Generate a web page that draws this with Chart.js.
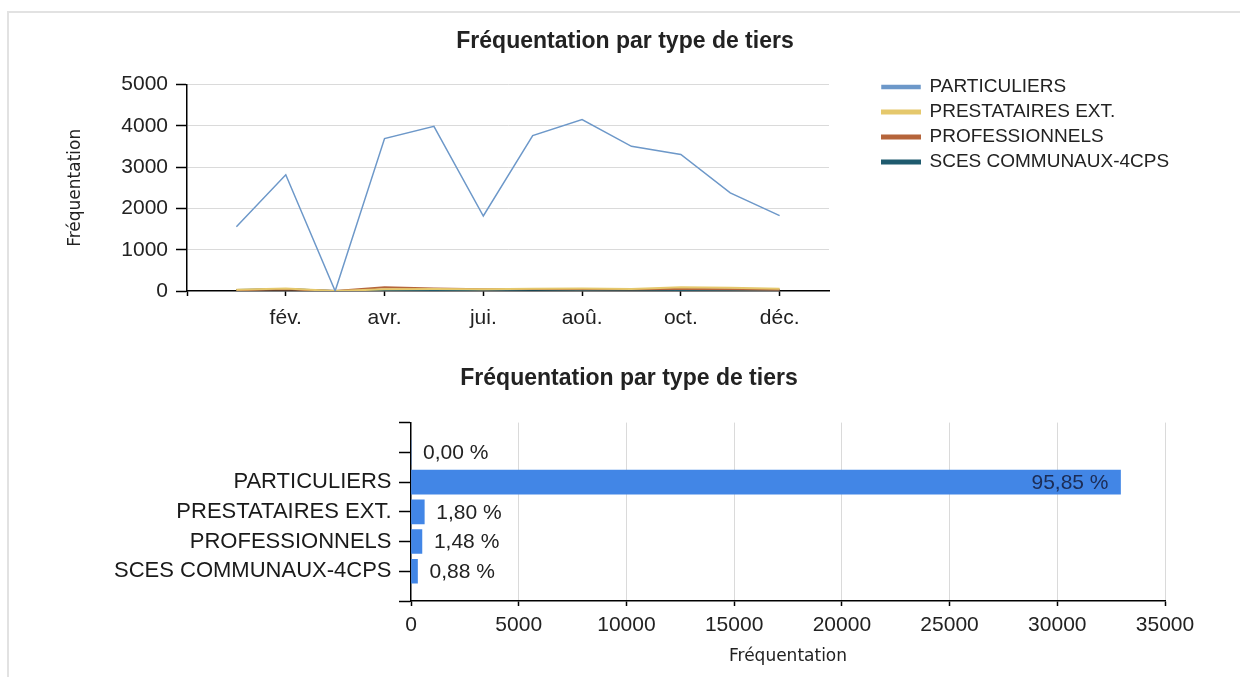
<!DOCTYPE html>
<html>
<head>
  <meta charset="utf-8">
  <title>Fréquentation par type de tiers</title>
  <script src="https://cdn.jsdelivr.net/npm/chart.js@4.4.1/dist/chart.umd.min.js"></script>
  <style>
    html, body { margin: 0; padding: 0; background: #fff; }
    body { width: 1240px; height: 677px; position: relative; overflow: hidden; }
    .frame {
      position: absolute; left: 7px; top: 11px; right: -4px; bottom: -4px;
      border-top: 2px solid #e2e2e2; border-left: 2px solid #e2e2e2;
    }
    .chart-box { position: absolute; left: 0; width: 1240px; }
    #line-box { top: 0; height: 340px; }
    #bar-box { top: 340px; height: 337px; }
  </style>
</head>
<body>
  <div class="frame"></div>
  <div class="chart-box" id="line-box"><canvas id="line-chart"></canvas></div>
  <div class="chart-box" id="bar-box"><canvas id="bar-chart"></canvas></div>

  <script>
    const FONT = "'Liberation Sans', Arial, sans-serif";
    const AXIS_TITLE_FONT = "'DejaVu Sans', sans-serif";
    const TITLE = 'Fréquentation par type de tiers';

    // monthly attendance per type of third party
    const months = ['janv.', 'fév.', 'mars', 'avr.', 'mai', 'jui.', 'juil.', 'aoû.', 'sept.', 'oct.', 'nov.', 'déc.'];
    const seriesNames = ['PARTICULIERS', 'PRESTATAIRES EXT.', 'PROFESSIONNELS', 'SCES COMMUNAUX-4CPS'];
    const seriesColors = ['#6d98c9', '#e5c86c', '#b5653b', '#1f5b6e'];
    const particuliers = [1557, 2815, 0, 3691, 3990, 1817, 3764, 4153, 3504, 3309, 2375, 1825];
    const prestataires = [30, 60, 0, 40, 50, 45, 55, 60, 50, 90, 80, 57];
    const professionnels = [20, 40, 0, 90, 60, 40, 50, 45, 40, 50, 40, 32];
    const scesCommunaux = [25, 50, 0, 20, 25, 20, 30, 25, 30, 25, 27, 25];
    const yTicks = [0, 1000, 2000, 3000, 4000, 5000];

    // yearly totals (bar chart)
    const barCategories = ['', 'PARTICULIERS', 'PRESTATAIRES EXT.', 'PROFESSIONNELS', 'SCES COMMUNAUX-4CPS'];
    const barTotals = [0, 32935, 617, 507, 302];
    const xTicks = [0, 5000, 10000, 15000, 20000, 25000, 30000, 35000];

    const shownMonth = v => v === 0 || (v % 2 === 0 && v >= 2 && v <= 12);
    const plainNumber = v => String(v);

    // put the legend in the blank space right of the plot
    const legendBeside = {
      id: 'legendBeside',
      afterLayout(chart) {
        const lg = chart.legend;
        const a = chart.chartArea;
        lg.left = a.right + 47;
        lg.right = lg.left + lg.width;
        lg.top = a.top - 13;
        lg.bottom = lg.top + lg.height;
      }
    };

    // percentage labels on the bars
    const barPercentLabels = {
      id: 'barPercentLabels',
      afterDatasetsDraw(chart) {
        const ctx = chart.ctx;
        const meta = chart.getDatasetMeta(0);
        const values = chart.data.datasets[0].data;
        const total = barTotals.reduce((a, b) => a + b, 0);
        ctx.save();
        ctx.font = '21px ' + FONT;
        ctx.textBaseline = 'middle';
        meta.data.forEach((bar, i) => {
          const v = values[i];
          if (v === null || v === undefined) return;
          const text = (v / total * 100).toFixed(2).replace('.', ',') + ' %';
          if (bar.x - bar.base > 200) {
            ctx.textAlign = 'right';
            ctx.fillStyle = '#1c2c55';
            ctx.fillText(text, bar.x - 12, bar.y + 1);
          } else {
            ctx.textAlign = 'left';
            ctx.fillStyle = '#222';
            ctx.fillText(text, bar.x + 12, bar.y + 1);
          }
        });
        ctx.restore();
      }
    };

    const lineSets = [particuliers, prestataires, professionnels, scesCommunaux].map((vals, k) => ({
      label: seriesNames[k],
      data: vals.map((v, i) => ({ x: i + 1, y: v })),
      borderColor: seriesColors[k],
      backgroundColor: seriesColors[k],
      borderWidth: k === 0 ? 1.5 : 2,
      pointRadius: 0,
      tension: 0
    }));

    new Chart(document.getElementById('line-chart'), {
      type: 'line',
      data: { datasets: lineSets },
      options: {
        responsive: true,
        maintainAspectRatio: false,
        animation: false,
        layout: { padding: { left: 10, right: 0, top: 0, bottom: 0 } },
        plugins: {
          title: {
            display: true, text: TITLE, color: '#222',
            font: { family: FONT, size: 23, weight: 'bold' },
            padding: { top: 28, bottom: 29 }
          },
          legend: {
            position: 'chartArea', align: 'start',
            labels: { font: { family: FONT, size: 19 }, color: '#222', boxWidth: 38, boxHeight: 3, padding: 6 }
          },
          tooltip: { enabled: false }
        },
        scales: {
          x: {
            type: 'linear', min: 0, max: months.length + 1,
            ticks: {
              stepSize: 1, maxTicksLimit: 20, autoSkip: false, maxRotation: 0, padding: 10,
              color: '#222', font: { family: FONT, size: 21 },
              callback: v => (v >= 1 && v <= 12 && shownMonth(v)) ? months[v - 1] : ''
            },
            grid: {
              drawOnChartArea: false, tickLength: 5, tickWidth: 1.5,
              tickColor: c => (c.tick && shownMonth(c.tick.value)) ? '#000' : 'rgba(0,0,0,0)'
            },
            border: { color: '#000', width: 1.5 },
            afterFit: s => { s.height = 49; }
          },
          y: {
            min: yTicks[0], max: yTicks[yTicks.length - 1],
            afterBuildTicks: s => { s.ticks = yTicks.map(v => ({ value: v })); },
            ticks: { padding: 8, color: '#222', font: { family: FONT, size: 21 }, callback: plainNumber },
            grid: {
              color: c => (c.tick && c.tick.value === 0) ? 'rgba(0,0,0,0)' : '#dadada',
              tickColor: '#000', tickLength: 11, tickWidth: 1.5
            },
            border: { color: '#000', width: 1.5 },
            title: {
              display: true, text: 'Fréquentation', color: '#222',
              font: { family: AXIS_TITLE_FONT, size: 17 },
              padding: { top: 55, bottom: 0 }
            },
            afterFit: s => { s.width = 177; }
          },
          spacer: {
            position: 'right', display: true,
            grid: { display: false }, border: { display: false }, ticks: { display: false },
            afterFit: s => { s.width = 411; }
          }
        }
      },
      plugins: [legendBeside]
    });

    new Chart(document.getElementById('bar-chart'), {
      type: 'bar',
      data: {
        labels: [''].concat(barCategories, ['']),
        datasets: [{
          label: 'Fréquentation',
          data: [null].concat(barTotals, [null]),
          backgroundColor: '#4286e6',
          barThickness: 24
        }]
      },
      options: {
        indexAxis: 'y',
        responsive: true,
        maintainAspectRatio: false,
        animation: false,
        layout: { padding: { left: 93, right: 75, top: 0, bottom: 0 } },
        plugins: {
          title: {
            display: true, text: TITLE, color: '#222',
            font: { family: FONT, size: 23, weight: 'bold' },
            padding: { top: 25, bottom: 30 }
          },
          legend: { display: false },
          tooltip: { enabled: false }
        },
        scales: {
          x: {
            type: 'linear', min: xTicks[0], max: xTicks[xTicks.length - 1],
            afterBuildTicks: s => { s.ticks = xTicks.map(v => ({ value: v })); },
            ticks: { padding: 7, color: '#222', font: { family: FONT, size: 21 }, callback: plainNumber },
            grid: {
              color: c => (c.tick && c.tick.value === 0) ? 'rgba(0,0,0,0)' : '#dadada',
              tickColor: '#000', tickLength: 5, tickWidth: 1.5
            },
            border: { color: '#000', width: 1.5 },
            title: {
              display: true, text: 'Fréquentation', color: '#222',
              font: { family: AXIS_TITLE_FONT, size: 17 },
              padding: { top: 0, bottom: 10 }
            },
            afterFit: s => { s.height = 76; }
          },
          y: {
            type: 'category', offset: false,
            ticks: { autoSkip: false, padding: 7.5, color: '#1a1a1a', font: { family: FONT, size: 22 } },
            grid: { offset: false, drawOnChartArea: false, tickColor: '#000', tickLength: 12, tickWidth: 1.5 },
            border: { color: '#000', width: 1.5 },
            afterFit: s => { s.width = 318; }
          }
        }
      },
      plugins: [barPercentLabels]
    });
  </script>
</body>
</html>
